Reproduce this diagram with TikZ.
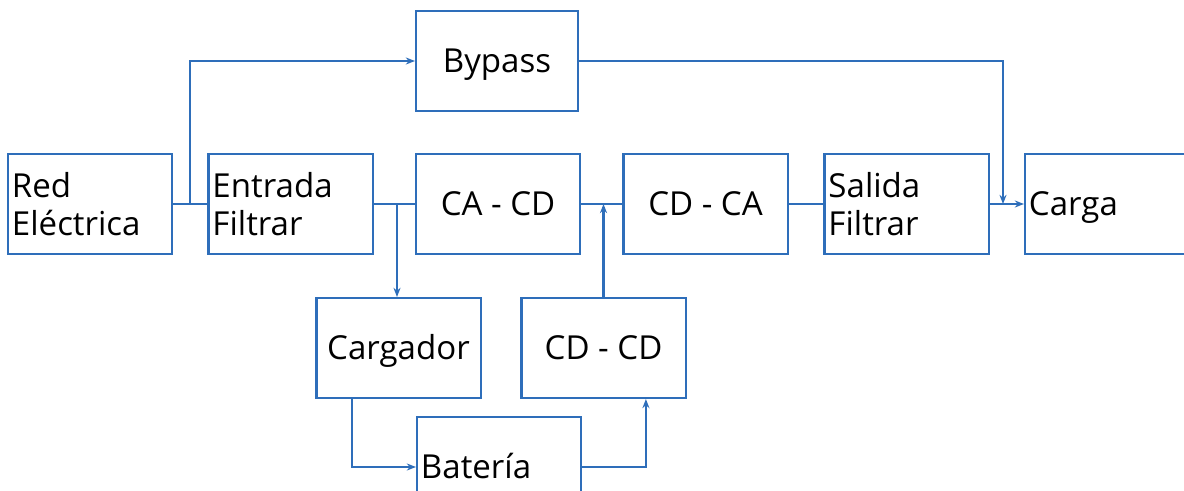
\documentclass[tikz,border=0pt]{standalone}
\usepackage{fontspec}
\setmainfont{Open Sans}
\usepackage{tikz}
\usetikzlibrary{positioning, arrows.meta, calc}

\definecolor{lineblue}{RGB}{46,110,186}

\begin{document}
\begin{tikzpicture}[
    x=0.025cm, y=-0.025cm,
    > = {Stealth[length=6.5pt, width=5pt]},
    block/.style={draw=lineblue, fill=white, line width=1.45pt, minimum width=4.1cm, minimum height=2.5cm,
        inner sep=0pt, font=\fontsize{23.5}{27}\selectfont},
    oneline/.style={block, text height=16.8pt, text depth=0pt},
    leftblock/.style={block, align=left, text width=3.9cm},
    conn/.style={draw=lineblue, line width=1.45pt}
]
\useasboundingbox (0,0) rectangle (1184,491);

% --- Main path ---
\node[leftblock] (redelec) at (90,204) {Red\\Eléctrica};
\node[leftblock] (entrada) at (290.5,204) {Entrada\\Filtrar};
\node[oneline] (cacd) at (498,204) {CA - CD};
\node[oneline] (cdca) at (705.5,204) {CD - CA};
\node[leftblock] (salida) at (906.5,204) {Salida\\Filtrar};
\node[oneline, leftblock, text height=16.8pt, text depth=0pt] (carga) at (1107,204) {Carga};

% --- Bypass and battery branch ---
\node[oneline, minimum width=4.05cm] (bypass) at (497,61) {Bypass};
\node[oneline] (cargador) at (398.5,348) {Cargador};
\node[oneline] (cdcd) at (603.5,348) {CD - CD};
\node[leftblock, text height=16.8pt, text depth=0pt] (bateria) at (499,467) {Batería};

% Junction points on the main line
\coordinate (j1) at (190,204);
\coordinate (j2) at (397,204);
\coordinate (j3) at (1003,204);

\draw[conn] (redelec) -- (entrada);
\draw[conn] (entrada) -- (cacd);
\draw[conn] (cacd) -- (cdca);
\draw[conn] (cdca) -- (salida);
\draw[conn, ->] (salida) -- (carga);

% Bypass around the converters
\draw[conn, ->] (j1) |- (bypass.west);
\draw[conn, ->] (bypass.east) -| (j3);

% Charging and discharging
\draw[conn, ->] (j2) -- (j2 |- cargador.north);
\draw[conn, ->] ([xshift=-1.16cm]cargador.south) |- (bateria.west);
\draw[conn, ->] (bateria.east) -| ([xshift=1.06cm]cdcd.south);
\draw[conn, ->] (cdcd.north) -- (cdcd.north |- cacd.east);

\end{tikzpicture}
\end{document}
